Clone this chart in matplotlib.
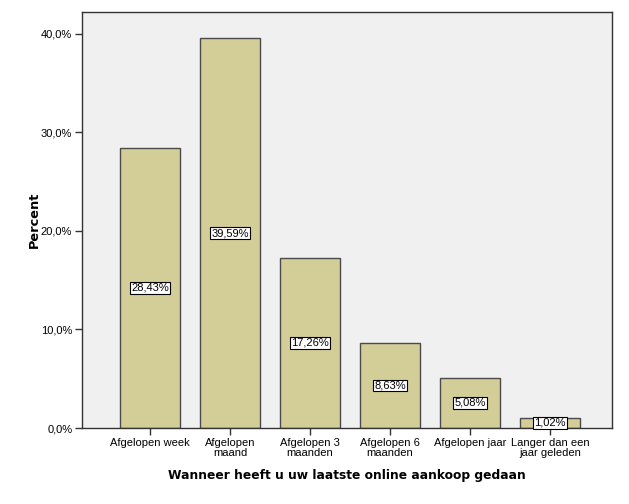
import matplotlib.pyplot as plt

# data
categories = ["Afgelopen week", "Afgelopen\nmaand", "Afgelopen 3\nmaanden",
              "Afgelopen 6\nmaanden", "Afgelopen jaar", "Langer dan een\njaar geleden"]
percent = [28.43, 39.59, 17.26, 8.63, 5.08, 1.02]
yticks = [0, 10, 20, 30, 40]
ytick_labels = ["0,0%", "10,0%", "20,0%", "30,0%", "40,0%"]

plt.rcParams['font.family'] = ['Liberation Sans', 'DejaVu Sans']

fig = plt.figure(figsize=(6.29, 5.04), dpi=100)
ax = fig.add_axes([82 / 629, 1 - 428 / 504, 530 / 629, 416 / 504])
ax.set_facecolor("#f0f0f0")

x = list(range(len(categories)))
ax.bar(x, percent, width=0.75, color="#d3ce97", edgecolor="#4a4a4a", linewidth=1, zorder=2)

for xi, v in zip(x, percent):
    ax.text(xi, v / 2, f"{v:.2f}%".replace(".", ","), ha="center", va="center",
            fontsize=8, zorder=3,
            bbox=dict(boxstyle="square,pad=0.08", facecolor="white", edgecolor="black", linewidth=0.8))

ax.set_xlim(-0.85, 5.775)
ax.set_ylim(0, 42.23)
ax.set_xticks(x)
ax.set_xticklabels(categories, fontsize=8, linespacing=1.0)
ax.set_yticks(yticks)
ax.set_yticklabels(ytick_labels, fontsize=8)
ax.tick_params(axis="both", length=5, width=1, color="#333333", pad=2)

for s in ax.spines.values():
    s.set_color("#333333")
    s.set_linewidth(1)

ax.set_xlabel("Wanneer heeft u uw laatste online aankoop gedaan", fontsize=8.8,
              fontweight="bold", family="DejaVu Sans", labelpad=8)
ax.set_ylabel("Percent", fontsize=9.3, fontweight="bold", family="DejaVu Sans", labelpad=0)

fig.savefig("out.png", dpi=100)
